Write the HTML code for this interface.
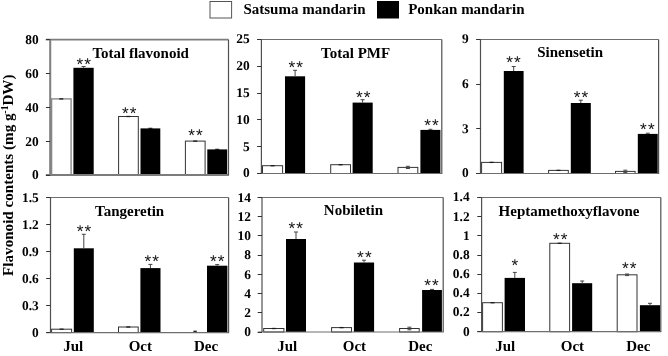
<!DOCTYPE html>
<html lang="en">
<head>
<meta charset="utf-8">
<title>Flavonoid contents</title>
<style>
html,body{margin:0;padding:0;background:#fff;}
body{width:668px;height:356px;overflow:hidden;}
svg{display:block;will-change:transform;}
text{font-family:"Liberation Serif", "DejaVu Serif", serif;fill:#000;}
.b{font-weight:bold;font-size:15px;}
.t{font-weight:bold;font-size:13.4px;text-rendering:geometricPrecision;text-anchor:end;}
.a{font-family:"Liberation Sans","DejaVu Sans",sans-serif;font-size:17.2px;letter-spacing:1.1px;text-rendering:geometricPrecision;fill:#111;}
.x{text-anchor:middle;}
.ax{stroke:#6e6e6e;stroke-width:1.2;fill:none;}
.av{stroke:#505050;stroke-width:1.2;fill:none;}
.tk{stroke:#333;stroke-width:1;}
.w{fill:#fff;stroke:#333;stroke-width:1;}
.k{fill:#000;}
.e{stroke:#444;stroke-width:1;fill:none;}
</style>
</head>
<body>
<svg width="668" height="356" viewBox="0 0 668 356">
<rect x="0" y="0" width="668" height="356" fill="#fff"/>
<rect class="w" x="210.0" y="1.5" width="21.6" height="16.5" style="stroke:#555"/>
<text class="b" x="243.4" y="13.8">Satsuma mandarin</text>
<rect class="k" x="377" y="1" width="22" height="17.5"/>
<text class="b" x="408.2" y="13.8">Ponkan mandarin</text>
<text class="b x" style="font-size:15.12px" transform="translate(13.4,175.2) rotate(-90)">Flavonoid contents (mg g<tspan font-size="9.5" dy="-5">-1</tspan><tspan dy="5">DW)</tspan></text>
<g>
<rect class="w" style="stroke:#8a8a8a;stroke-width:1.4" x="51.6" y="98.9" width="19.5" height="76.1"/>
<path class="e" style="stroke:#1a1a1a;stroke-width:1.3" d="M59.3 98.9H63.3"/>
<rect class="k" x="73.4" y="67.8" width="20.3" height="107.2"/>
<path class="e" d="M83.6 67.8V66.5M81.6 66.5H85.6"/>
<rect class="w" x="118.6" y="116.5" width="19.7" height="58.5"/>
<path class="e" style="stroke:#1a1a1a;stroke-width:1.3" d="M126.4 116.5H130.4"/>
<rect class="k" x="140.5" y="128.4" width="19.8" height="46.6"/>
<path class="e" style="stroke:#1a1a1a;stroke-width:1.3" d="M148.4 128.4H152.4"/>
<rect class="w" x="185.4" y="141.1" width="19.7" height="33.9"/>
<path class="e" style="stroke:#1a1a1a;stroke-width:1.3" d="M193.2 141.1H197.2"/>
<rect class="k" x="207.3" y="149.4" width="19.9" height="25.6"/>
<path class="e" style="stroke:#1a1a1a;stroke-width:1.3" d="M215.2 149.4H219.2"/>
<path class="ax" style="stroke:#7c7c7c;stroke-width:1.8" d="M45.9 39.6H228.5M45.9 175.0H229.0"/>
<path class="av" style="stroke:#828282;stroke-width:2.1" d="M50.2 39.6V175.0"/>
<path class="av" d="M228.5 39.6V175.0"/>
<line class="tk" x1="45.9" y1="175.5" x2="50.2" y2="175.5"/><text class="t" x="38.7" y="179.3">0</text>
<line class="tk" x1="45.9" y1="141.5" x2="50.2" y2="141.5"/><text class="t" x="38.7" y="145.5">20</text>
<line class="tk" x1="45.9" y1="107.5" x2="50.2" y2="107.5"/><text class="t" x="38.7" y="111.6">40</text>
<line class="tk" x1="45.9" y1="73.5" x2="50.2" y2="73.5"/><text class="t" x="38.7" y="77.7">60</text>
<line class="tk" x1="45.9" y1="39.5" x2="50.2" y2="39.5"/><text class="t" x="38.7" y="43.9">80</text>
<text class="b" x="92.4" y="57.8">Total flavonoid</text>
<text class="a" x="76.5" y="69.7">**</text>
<text class="a" x="121.9" y="119.1">**</text>
<text class="a" x="188.2" y="141.1">**</text>
</g>
<g>
<rect class="w" x="262.5" y="165.7" width="20.1" height="7.8"/>
<path class="e" style="stroke:#1a1a1a;stroke-width:1.3" d="M270.6 165.7H274.6"/>
<rect class="k" x="285.0" y="76.3" width="20.1" height="97.2"/>
<path class="e" d="M295.1 76.3V70.3M293.1 70.3H297.1"/>
<rect class="w" x="330.7" y="164.7" width="19.8" height="8.8"/>
<path class="e" style="stroke:#1a1a1a;stroke-width:1.3" d="M338.6 164.7H342.6"/>
<rect class="k" x="352.6" y="102.6" width="20.1" height="70.9"/>
<path class="e" d="M362.6 102.6V99.7M360.6 99.7H364.6"/>
<rect class="w" x="398.0" y="167.4" width="19.8" height="6.1"/>
<path class="e" d="M407.9 167.4V166.3M405.9 166.3H409.9M407.9 167.4V168.5M405.9 168.5H409.9"/>
<rect class="k" x="420.4" y="129.9" width="20.0" height="43.6"/>
<path class="e" d="M430.4 129.9V129.3M428.4 129.3H432.4"/>
<path class="ax" d="M257.1 39.5H441.8M257.1 173.5H442.3"/>
<path class="av" d="M261.4 39.5V173.5M441.8 39.5V173.5"/>
<line class="tk" x1="257.1" y1="173.5" x2="261.4" y2="173.5"/><text class="t" x="249.6" y="177.4">0</text>
<line class="tk" x1="257.1" y1="146.5" x2="261.4" y2="146.5"/><text class="t" x="249.6" y="150.6">5</text>
<line class="tk" x1="257.1" y1="119.5" x2="261.4" y2="119.5"/><text class="t" x="249.6" y="123.8">10</text>
<line class="tk" x1="257.1" y1="93.5" x2="261.4" y2="93.5"/><text class="t" x="249.6" y="97.0">15</text>
<line class="tk" x1="257.1" y1="66.5" x2="261.4" y2="66.5"/><text class="t" x="249.6" y="70.2">20</text>
<line class="tk" x1="257.1" y1="39.5" x2="261.4" y2="39.5"/><text class="t" x="249.6" y="43.4">25</text>
<text class="b" x="321.1" y="57.7">Total PMF</text>
<text class="a" x="288.4" y="72.7">**</text>
<text class="a" x="356.0" y="102.5">**</text>
<text class="a" x="424.2" y="130.7">**</text>
</g>
<g>
<rect class="w" x="481.6" y="162.4" width="20.0" height="11.1"/>
<path class="e" style="stroke:#1a1a1a;stroke-width:1.3" d="M489.6 162.4H493.6"/>
<rect class="k" x="503.8" y="71.0" width="19.8" height="102.5"/>
<path class="e" d="M513.7 71.0V66.5M511.7 66.5H515.7"/>
<rect class="w" x="548.6" y="170.4" width="19.7" height="3.1"/>
<path class="e" style="stroke:#1a1a1a;stroke-width:1.3" d="M556.5 170.4H560.5"/>
<rect class="k" x="570.8" y="103.0" width="20.0" height="70.5"/>
<path class="e" d="M580.8 103.0V100.2M578.8 100.2H582.8"/>
<rect class="w" x="615.5" y="171.4" width="19.6" height="2.1"/>
<path class="e" d="M625.3 171.4V170.2M623.3 170.2H627.3M625.3 171.4V172.6M623.3 172.6H627.3"/>
<rect class="k" x="637.8" y="133.9" width="19.9" height="39.6"/>
<path class="e" d="M647.8 133.9V133.2M645.8 133.2H649.8"/>
<path class="ax" d="M476.2 39.5H658.6M476.2 173.5H659.1"/>
<path class="av" d="M480.5 39.5V173.5M658.6 39.5V173.5"/>
<line class="tk" x1="476.2" y1="173.5" x2="480.5" y2="173.5"/><text class="t" x="468.6" y="177.3">0</text>
<line class="tk" x1="476.2" y1="128.5" x2="480.5" y2="128.5"/><text class="t" x="468.6" y="132.6">3</text>
<line class="tk" x1="476.2" y1="84.5" x2="480.5" y2="84.5"/><text class="t" x="468.6" y="88.0">6</text>
<line class="tk" x1="476.2" y1="39.5" x2="480.5" y2="39.5"/><text class="t" x="468.6" y="43.3">9</text>
<text class="b" x="537.2" y="57.4">Sinensetin</text>
<text class="a" x="506.3" y="67.5">**</text>
<text class="a" x="573.7" y="102.9">**</text>
<text class="a" x="640.1" y="134.7">**</text>
</g>
<g>
<rect class="w" x="51.6" y="329.2" width="20.0" height="3.4"/>
<path class="e" style="stroke:#1a1a1a;stroke-width:1.3" d="M59.6 329.2H63.6"/>
<rect class="k" x="73.8" y="248.3" width="20.0" height="84.3"/>
<path class="e" d="M83.8 248.3V234.3M81.8 234.3H85.8"/>
<rect class="w" x="118.5" y="327.0" width="19.7" height="5.6"/>
<path class="e" style="stroke:#1a1a1a;stroke-width:1.3" d="M126.3 327.0H130.3"/>
<rect class="k" x="140.4" y="268.1" width="20.1" height="64.5"/>
<path class="e" d="M150.4 268.1V264.4M148.4 264.4H152.4"/>
<path class="e" style="stroke:#222;stroke-width:1.5" d="M193.4 331.4H196.8"/>
<rect class="k" x="207.0" y="265.7" width="20.4" height="66.9"/>
<path class="e" d="M217.2 265.7V264.6M215.2 264.6H219.2"/>
<path class="ax" d="M46.2 197.5H228.6M46.2 332.6H229.1"/>
<path class="av" d="M50.5 197.5V332.6M228.6 197.5V332.6"/>
<line class="tk" x1="46.2" y1="332.5" x2="50.5" y2="332.5"/><text class="t" x="38.8" y="336.9">0</text>
<line class="tk" x1="46.2" y1="305.5" x2="50.5" y2="305.5"/><text class="t" x="38.8" y="309.9">0.3</text>
<line class="tk" x1="46.2" y1="278.5" x2="50.5" y2="278.5"/><text class="t" x="38.8" y="282.9">0.6</text>
<line class="tk" x1="46.2" y1="251.5" x2="50.5" y2="251.5"/><text class="t" x="38.8" y="255.8">0.9</text>
<line class="tk" x1="46.2" y1="224.5" x2="50.5" y2="224.5"/><text class="t" x="38.8" y="228.8">1.2</text>
<line class="tk" x1="46.2" y1="197.5" x2="50.5" y2="197.5"/><text class="t" x="38.8" y="201.8">1.5</text>
<text class="b" x="95.0" y="216.0">Tangeretin</text>
<text class="a" x="76.7" y="237.1">**</text>
<text class="a" x="144.4" y="266.5">**</text>
<text class="a" x="210.0" y="266.9">**</text>
</g>
<g>
<rect class="w" x="263.7" y="328.5" width="20.2" height="3.5"/>
<path class="e" style="stroke:#1a1a1a;stroke-width:1.3" d="M271.8 328.5H275.8"/>
<rect class="k" x="286.0" y="239.0" width="20.0" height="93.0"/>
<path class="e" d="M296.0 239.0V232.0M294.0 232.0H298.0"/>
<rect class="w" x="331.6" y="327.6" width="19.9" height="4.4"/>
<path class="e" style="stroke:#1a1a1a;stroke-width:1.3" d="M339.6 327.6H343.6"/>
<rect class="k" x="353.9" y="262.5" width="20.2" height="69.5"/>
<path class="e" d="M364.0 262.5V260.2M362.0 260.2H366.0"/>
<rect class="w" x="399.6" y="328.5" width="19.6" height="3.5"/>
<path class="e" d="M409.4 328.5V327.2M407.4 327.2H411.4M409.4 328.5V329.8M407.4 329.8H411.4"/>
<rect class="k" x="422.1" y="290.0" width="19.8" height="42.0"/>
<path class="e" d="M432.0 290.0V289.4M430.0 289.4H434.0"/>
<path class="ax" d="M257.7 197.5H443.2M257.7 332.0H443.7"/>
<path class="av" d="M262.0 197.5V332.0M443.2 197.5V332.0"/>
<line class="tk" x1="257.7" y1="332.5" x2="262.0" y2="332.5"/><text class="t" x="250.9" y="336.1">0</text>
<line class="tk" x1="257.7" y1="312.5" x2="262.0" y2="312.5"/><text class="t" x="250.9" y="316.9">2</text>
<line class="tk" x1="257.7" y1="293.5" x2="262.0" y2="293.5"/><text class="t" x="250.9" y="297.7">4</text>
<line class="tk" x1="257.7" y1="274.5" x2="262.0" y2="274.5"/><text class="t" x="250.9" y="278.5">6</text>
<line class="tk" x1="257.7" y1="255.5" x2="262.0" y2="255.5"/><text class="t" x="250.9" y="259.2">8</text>
<line class="tk" x1="257.7" y1="235.5" x2="262.0" y2="235.5"/><text class="t" x="250.9" y="240.0">10</text>
<line class="tk" x1="257.7" y1="216.5" x2="262.0" y2="216.5"/><text class="t" x="250.9" y="220.8">12</text>
<line class="tk" x1="257.7" y1="197.5" x2="262.0" y2="197.5"/><text class="t" x="250.9" y="201.6">14</text>
<text class="b" x="323.8" y="214.5">Nobiletin</text>
<text class="a" x="288.5" y="234.2">**</text>
<text class="a" x="357.1" y="262.9">**</text>
<text class="a" x="424.2" y="291.3">**</text>
</g>
<g>
<rect class="w" x="482.6" y="302.7" width="19.8" height="29.0"/>
<path class="e" style="stroke:#1a1a1a;stroke-width:1.3" d="M490.5 302.7H494.5"/>
<rect class="k" x="504.6" y="277.9" width="20.4" height="53.8"/>
<path class="e" d="M514.8 277.9V272.4M512.8 272.4H516.8"/>
<rect class="w" x="549.8" y="243.3" width="19.8" height="88.4"/>
<path class="e" style="stroke:#1a1a1a;stroke-width:1.3" d="M557.7 243.3H561.7"/>
<rect class="k" x="572.1" y="283.2" width="20.1" height="48.5"/>
<path class="e" d="M582.2 283.2V281.0M580.2 281.0H584.2"/>
<rect class="w" x="617.2" y="274.8" width="19.8" height="56.9"/>
<path class="e" d="M627.1 274.8V274.0M625.1 274.0H629.1M627.1 274.8V275.6M625.1 275.6H629.1"/>
<rect class="k" x="639.9" y="305.2" width="20.1" height="26.5"/>
<path class="e" d="M650.0 305.2V303.3M648.0 303.3H652.0"/>
<path class="ax" d="M477.3 197.5H660.8M477.3 331.7H661.3"/>
<path class="av" d="M481.6 197.5V331.7M660.8 197.5V331.7"/>
<line class="tk" x1="477.3" y1="331.5" x2="481.6" y2="331.5"/><text class="t" x="469.6" y="335.5">0</text>
<line class="tk" x1="477.3" y1="312.5" x2="481.6" y2="312.5"/><text class="t" x="469.6" y="316.3">0.2</text>
<line class="tk" x1="477.3" y1="293.5" x2="481.6" y2="293.5"/><text class="t" x="469.6" y="297.2">0.4</text>
<line class="tk" x1="477.3" y1="274.5" x2="481.6" y2="274.5"/><text class="t" x="469.6" y="278.0">0.6</text>
<line class="tk" x1="477.3" y1="255.5" x2="481.6" y2="255.5"/><text class="t" x="469.6" y="258.8">0.8</text>
<line class="tk" x1="477.3" y1="235.5" x2="481.6" y2="235.5"/><text class="t" x="469.6" y="239.6">1</text>
<line class="tk" x1="477.3" y1="216.5" x2="481.6" y2="216.5"/><text class="t" x="469.6" y="220.5">1.2</text>
<line class="tk" x1="477.3" y1="197.5" x2="481.6" y2="197.5"/><text class="t" x="469.6" y="201.3">1.4</text>
<text class="b" x="498.6" y="215.5">Heptamethoxyflavone</text>
<text class="a" x="511.5" y="270.9">*</text>
<text class="a" x="553.0" y="244.8">**</text>
<text class="a" x="622.0" y="273.5">**</text>
</g>
<text class="b x" x="73.2" y="350.5">Jul</text>
<text class="b x" x="140.3" y="350.5">Oct</text>
<text class="b x" x="206.1" y="350.5">Dec</text>
<text class="b x" x="287.3" y="350.5">Jul</text>
<text class="b x" x="354.4" y="350.5">Oct</text>
<text class="b x" x="420.3" y="350.5">Dec</text>
<text class="b x" x="505.3" y="350.5">Jul</text>
<text class="b x" x="572.4" y="350.5">Oct</text>
<text class="b x" x="638.3" y="350.5">Dec</text>
</svg>
</body>
</html>
